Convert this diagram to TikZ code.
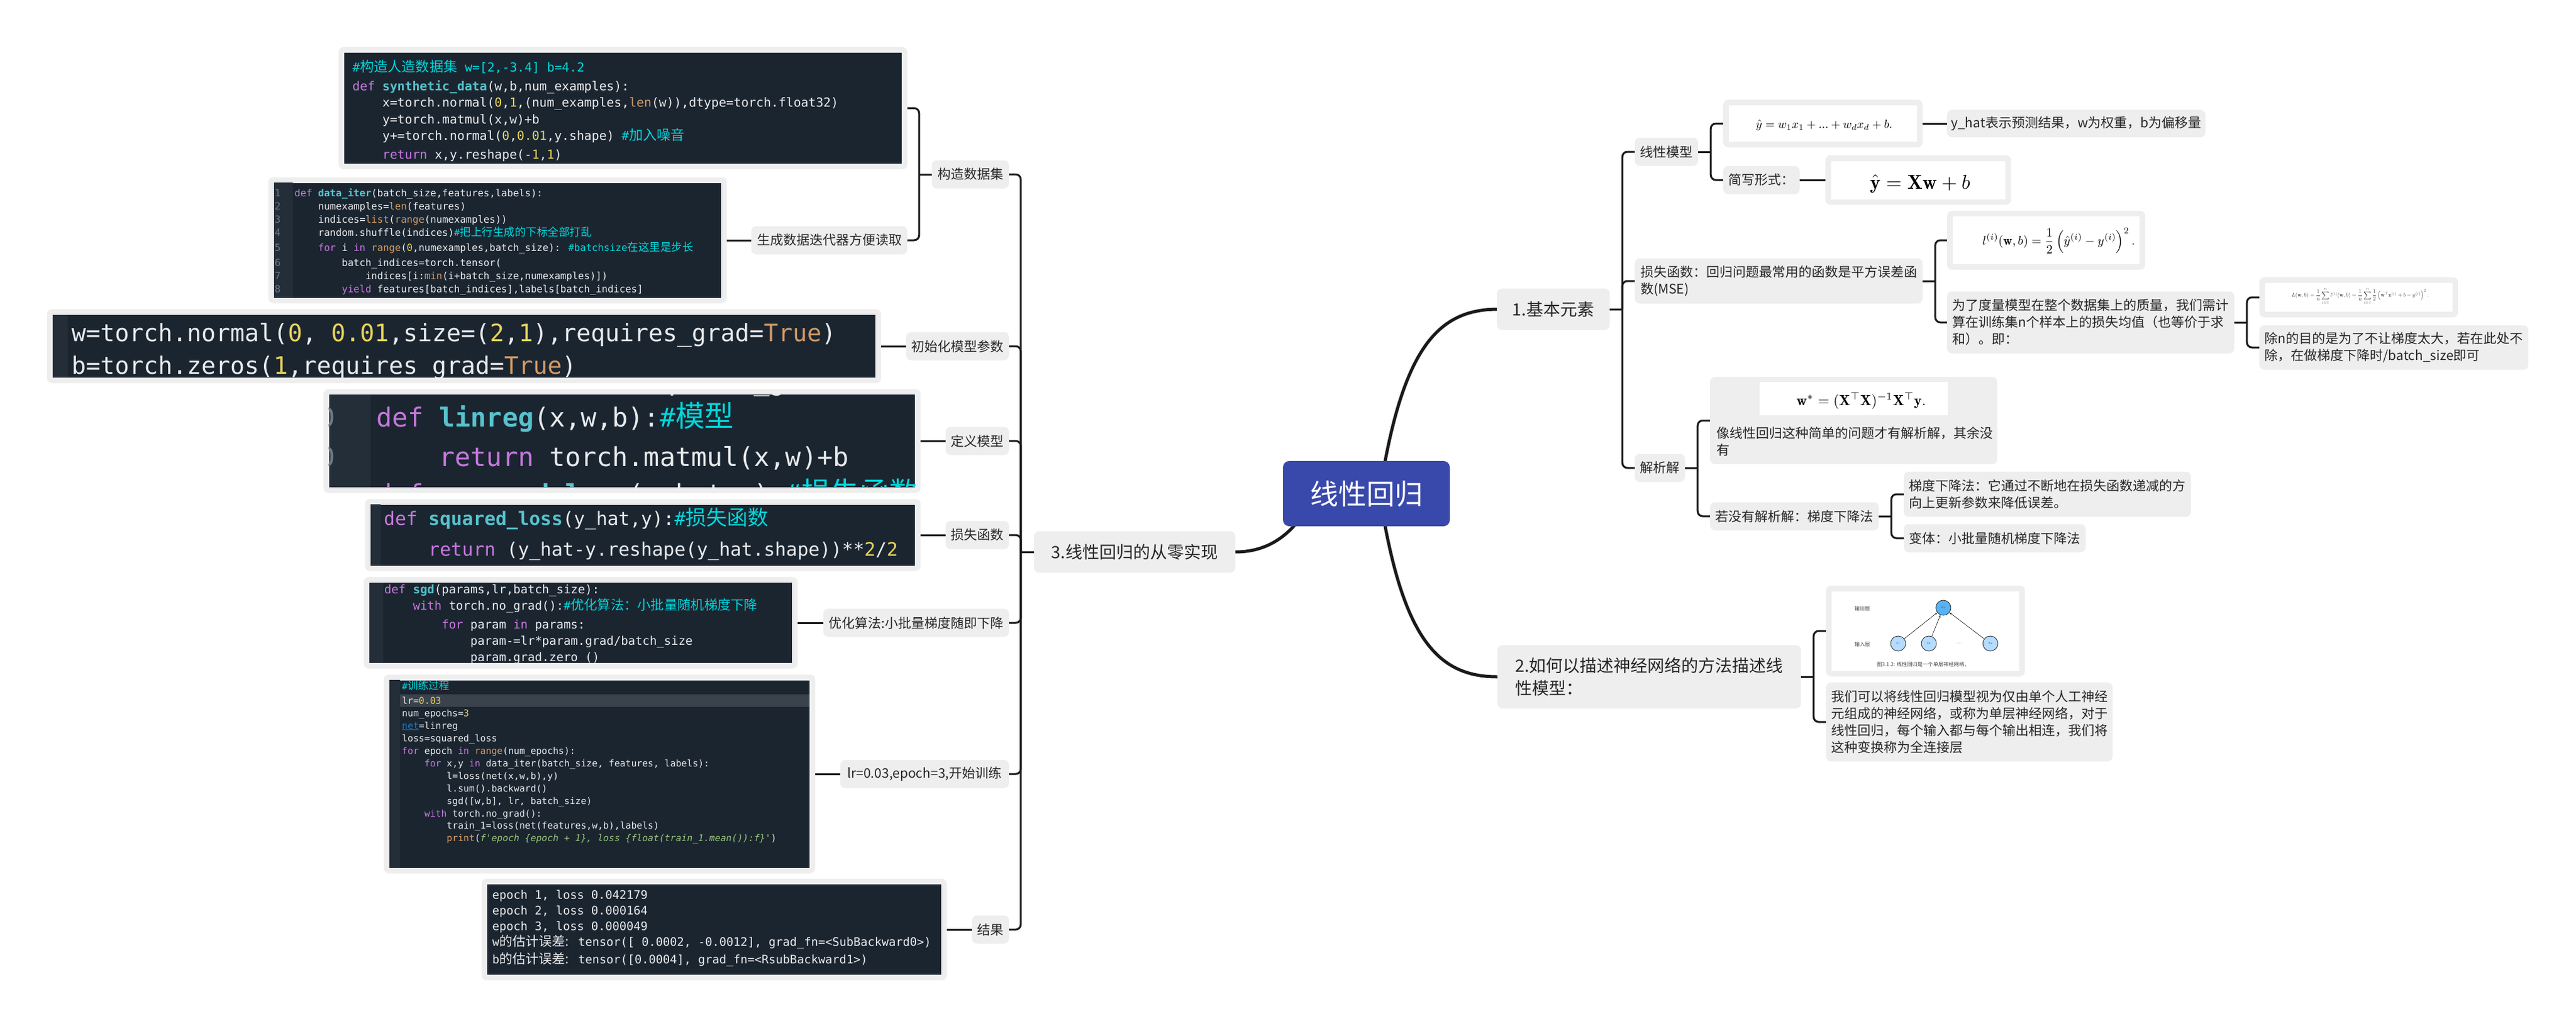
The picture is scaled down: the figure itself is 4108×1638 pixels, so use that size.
\documentclass[tikz,border=0pt]{standalone}
\usepackage{fontspec}
\usetikzlibrary{backgrounds,arrows.meta}
\newfontfamily\cjk{Noto Sans CJK SC}
\newfontfamily\cjkcode[Scale=1.12]{Noto Sans CJK SC}
\newfontfamily\codefont{DejaVu Sans Mono}
\definecolor{framegray}{HTML}{EEEEEE}
\definecolor{codebg}{HTML}{1B2530}
\definecolor{codegut}{HTML}{232E39}
\definecolor{codehl}{HTML}{3A424B}
\definecolor{codetxt}{HTML}{E8EAEC}
\definecolor{codekw}{HTML}{C678DD}
\definecolor{codefn}{HTML}{56C2CC}
\definecolor{codenum}{HTML}{E8D45C}
\definecolor{codebi}{HTML}{D19A66}
\definecolor{codecm}{HTML}{00D8DC}
\definecolor{codestr}{HTML}{98C379}
\definecolor{codeln}{HTML}{6C7A86}
\definecolor{rootblue}{HTML}{3949AB}
\definecolor{inkline}{HTML}{1A1A1A}
\definecolor{neuronout}{HTML}{56B4F5}
\definecolor{neuronin}{HTML}{B5DBFF}
\newcommand\kw[1]{\textcolor{codekw}{#1}}
\newcommand\fnm[1]{\textcolor{codefn}{\bfseries #1}}
\newcommand\nm[1]{\textcolor{codenum}{#1}}
\newcommand\bif[1]{\textcolor{codebi}{#1}}
\newcommand\cmt[1]{\textcolor{codecm}{#1}}
\newcommand\strg[1]{\textcolor{codestr}{#1}}
\newcommand\cc[1]{{\cjkcode #1}}
\newcommand\lnum[1]{\textcolor{codeln}{#1}}
\newcommand\codesize[1]{\codefont\fontsize{#1}{#1}\selectfont}
\tikzset{
  topic/.style={fill=framegray, rounded corners=8pt, inner sep=0pt, text=black!85, align=left,
    font=\cjk\fontsize{21}{27}\selectfont},
  bigtopic/.style={topic, font=\cjk\fontsize{27}{36}\selectfont},
  rootnode/.style={fill=rootblue, rounded corners=10pt, inner sep=0pt, text=white,
    font=\cjk\fontsize{45}{50}\selectfont},
  frameout/.style={fill=framegray, rounded corners=8pt, inner sep=0pt},
  framecode/.style={fill=codebg, inner sep=0pt},
  framewhite/.style={fill=white, inner sep=0pt},
  codeline/.style={anchor=base west, inner sep=0pt, text=codetxt},
  formula/.style={inner sep=0pt},
  branchline/.style={draw=inkline, line width=3pt},
  rootline/.style={draw=inkline, line width=5pt},
  neuron/.style={circle, draw=black!85, line width=.8pt, minimum size=24pt, inner sep=0pt},
  netlabel/.style={inner sep=0pt, text=black!75, font=\cjk\fontsize{8.3}{10}\selectfont},
  netarrow/.style={-{Stealth[length=4pt,width=3pt]}, draw=black!85, line width=.7pt}
}
% name, cx, cy, w, h, text
\newcommand\topicnode[6]{\node[topic, minimum width=#4, minimum height=#5] (#1) at (#2,#3) {#6};}
% name, cx, cy, w, h
\newcommand\codeframe[5]{
  \node[frameout, minimum width=#4, minimum height=#5] (#1) at (#2,#3) {};
  \node[framecode, minimum width=#4-18, minimum height=#5-18] (#1in) at (#2,#3) {};
}
\newcommand\whiteframe[5]{
  \node[frameout, minimum width=#4, minimum height=#5] (#1) at (#2,#3) {};
  \node[framewhite, minimum width=#4-18, minimum height=#5-18] (#1in) at (#2,#3) {};
}
\newcommand\codeclip[1]{\clip (#1in.south west) rectangle (#1in.north east);}
\newcommand\codegutter[2]{\fill[codegut] (#1in.south west) rectangle ([xshift=#2pt]#1in.north west);}
% parent, gap, children
\newcommand\branchr[3]{
  \draw[branchline] (#1.east) -- ++(#2,0) coordinate (#1v);
  \foreach \kid in {#3} {\draw[branchline, rounded corners=8pt] (#1v) |- (\kid.west);}
}
\newcommand\branchl[3]{
  \draw[branchline] (#1.west) -- ++(-#2,0) coordinate (#1v);
  \foreach \kid in {#3} {\draw[branchline, rounded corners=8pt] (#1v) |- (\kid.east);}
}
\begin{document}
\begin{tikzpicture}[x=1pt,y=-1pt]
  \useasboundingbox (0,0) rectangle (4108,1638);
  % centre
  \node[rootnode, minimum width=266, minimum height=104] (root) at (2179,787) {线性回归};
  \coordinate (rootr) at (2200,787);
  \coordinate (rootl) at (2085,810);
  % 1
  \node[bigtopic, minimum width=180, minimum height=66] (basic) at (2477,493) {1.基本元素};
  \topicnode{lin}{2657.5}{242}{101}{45}{线性模型}
  \whiteframe{imgyhat}{2907}{197}{318}{76}
  \node[formula] (fyhat) at (2909,200) {\scalebox{1.9}{$\hat{y}=w_1x_1+...+w_dx_d+b.$}};
  \topicnode{yhat}{3311}{197}{412}{44}{y\_hat表示预测结果，w为权重，b为偏移量}
  \topicnode{short}{2809}{287}{122}{45}{简写形式：}
  \whiteframe{imgshort}{3059}{287}{296}{79}
  \node[formula] (fshort) at (3062,293) {\scalebox{3.2}{$\hat{\mathbf{y}}=\mathbf{X}\mathbf{w}+b$}};
  \topicnode{loss}{2836.5}{448}{459}{72}{损失函数：回归问题最常用的函数是平方误差函\\数(MSE)}
  \whiteframe{imgloss}{3263}{383}{316}{94}
  \node[formula] (floss) at (3283,384) {\scalebox{2}{$\displaystyle l^{(i)}(\mathbf{w},b)=\frac{1}{2}\left(\hat{y}^{(i)}-y^{(i)}\right)^2.$}};
  \topicnode{avg}{3334}{514}{458}{99}{为了度量模型在整个数据集上的质量，我们需计\\算在训练集n个样本上的损失均值（也等价于求\\和）。即：}
  \whiteframe{imgavg}{3761.5}{474}{317}{64}
  \node[formula, text=black!75] (favg) at (3764,472) {\scalebox{.88}{$\displaystyle L(\mathbf{w},b)=\frac{1}{n}\sum_{i=1}^{n}l^{(i)}(\mathbf{w},b)=\frac{1}{n}\sum_{i=1}^{n}\frac{1}{2}\left(\mathbf{w}^{\top}\mathbf{x}^{(i)}+b-y^{(i)}\right)^2.$}};
  \topicnode{divn}{3817.5}{554}{429}{71}{除n的目的是为了不让梯度太大，若在此处不\\除，在做梯度下降时/batch\_size即可}
  \topicnode{anal}{2647}{746}{80}{45}{解析解}
  \node[frameout, minimum width=458, minimum height=139] (analf) at (2956,670.5) {};
  \node[framewhite, minimum width=300, minimum height=53] (analfin) at (2956,635.5) {};
  \node[formula] (fanal) at (2968,639) {\scalebox{2.35}{$\mathbf{w}^{*}=(\mathbf{X}^{\top}\mathbf{X})^{-1}\mathbf{X}^{\top}\mathbf{y}.$}};
  \node[topic, fill=none, anchor=west] (analtext) at (2737,704) {像线性回归这种简单的问题才有解析解，其余没\\有};
  \topicnode{noan}{2861.5}{823}{269}{45}{若没有解析解：梯度下降法}
  \topicnode{gd}{3265}{788}{458}{72}{梯度下降法：它通过不断地在损失函数递减的方\\向上更新参数来降低误差。}
  \topicnode{var}{3181}{858}{290}{45}{变体：小批量随机梯度下降法}
  % 2
  \node[bigtopic, minimum width=484, minimum height=101] (net) at (2630,1079) {2.如何以描述神经网络的方法描述线\\性模型：};
  \whiteframe{imgnet}{3070.5}{1006}{317}{145}
  \node[neuron, fill=neuronout] (o1) at (3099,969) {\scalebox{.55}{$o_1$}};
  \node[neuron, fill=neuronin] (x1) at (3027,1026) {\scalebox{.55}{$x_1$}};
  \node[neuron, fill=neuronin] (x2) at (3076,1026) {\scalebox{.55}{$x_2$}};
  \node[neuron, fill=neuronin] (xd) at (3174,1026) {\scalebox{.55}{$x_d$}};
  \node[netlabel] (dots) at (3125,1026) {$\cdots$};
  \node[netlabel] (outlayer) at (2970,970) {输出层};
  \node[netlabel] (inlayer) at (2970,1027) {输入层};
  \node[netlabel] (netcap) at (3067,1059) {图3.1.2: 线性回归是一个单层神经网络。};
  \draw[netarrow] (x1) -- (o1);
  \draw[netarrow] (x2) -- (o1);
  \draw[netarrow] (xd) -- (o1);
  \topicnode{fullconn}{3140.5}{1151}{457}{126}{我们可以将线性回归模型视为仅由单个人工神经\\元组成的神经网络，或称为单层神经网络，对于\\线性回归，每个输入都与每个输出相连，我们将\\这种变换称为全连接层}
  % 3
  \node[bigtopic, minimum width=321, minimum height=66] (impl) at (1809.5,880) {3.线性回归的从零实现};
  \topicnode{mkdata}{1547.5}{278}{123}{45}{构造数据集}
  \topicnode{iterdata}{1322.5}{383}{249}{45}{生成数据迭代器方便读取}
  \topicnode{initp}{1527}{552}{164}{45}{初始化模型参数}
  \topicnode{defm}{1558.5}{703}{101}{45}{定义模型}
  \topicnode{lossf}{1558.5}{853}{101}{45}{损失函数}
  \topicnode{optim}{1461}{993}{296}{45}{优化算法:小批量梯度随即下降}
  \topicnode{train}{1474.5}{1234}{269}{45}{lr=0.03,epoch=3,开始训练}
  \topicnode{result}{1579.5}{1482}{59}{45}{结果}
  % code pictures
  \codeframe{cdata}{993.5}{172.5}{907}{195}
  \begin{scope}
    \codeclip{cdata}
    \foreach [count=\i] \yy/\linetext in {
      114/{\cmt{\#\cc{构造人造数据集} w=[2,-3.4] b=4.2}},
      144/{\kw{def} \fnm{synthetic\_data}(w,b,num\_examples):},
      170/{~~~~x=torch.normal(\nm{0},\nm{1},(num\_examples,\bif{len}(w)),dtype=torch.float32)},
      197/{~~~~y=torch.matmul(x,w)+b},
      223/{~~~~y+=torch.normal(\nm{0},\nm{0.01},y.shape) \cmt{\#\cc{加入噪音}}},
      253/{~~~~\kw{return} x,y.reshape(-\nm{1},\nm{1})}}
      \node[codeline, font=\codesize{19.8}] (cdata\i) at (562,\yy) {\linetext};
  \end{scope}
  \codeframe{citer}{793.5}{383}{731}{201}
  \begin{scope}
    \codeclip{citer}
    \codegutter{citer}{30}
    \foreach [count=\i] \yy/\linetext in {
      313/{\kw{def} \fnm{data\_iter}(batch\_size,features,labels):},
      334/{~~~~numexamples=\bif{len}(features)},
      355/{~~~~indices=\bif{list}(\bif{range}(numexamples))},
      376/{~~~~random.shuffle(indices)\cmt{\#\cc{把上行生成的下标全部打乱}}},
      400/{~~~~\kw{for} i \kw{in} \bif{range}(\nm{0},numexamples,batch\_size): \cmt{\#batchsize\cc{在这里是步长}}},
      424/{~~~~~~~~batch\_indices=torch.tensor(},
      445/{~~~~~~~~~~~~indices[i:\bif{min}(i+batch\_size,numexamples)])},
      466/{~~~~~~~~\kw{yield} features[batch\_indices],labels[batch\_indices]}}
      {
      \node[codeline, font=\codesize{15.65}] (citer\i) at (469.5,\yy) {\linetext};
      \node[codeline, font=\codesize{15.65}] (citern\i) at (438,\yy) {\lnum{\i}};
      }
  \end{scope}
  \codeframe{cinit}{740}{552}{1330}{118}
  \begin{scope}
    \codeclip{cinit}
    \codegutter{cinit}{24}
    \foreach [count=\i] \yy/\linetext in {
      544/{w=torch.normal(\nm{0}, \nm{0.01},size=(\nm{2},\nm{1}),requires\_grad=\bif{True})},
      596/{b=torch.zeros(\nm{1},requires\_grad=\bif{True})}}
      \node[codeline, font=\codesize{38.2}] (cinit\i) at (114,\yy) {\linetext};
  \end{scope}
  \codeframe{cmodel}{992}{703}{952}{166}
  \begin{scope}
    \codeclip{cmodel}
    \codegutter{cmodel}{66}
    \foreach [count=\i] \yy/\linetext in {
      622/{b=torch.zeros(\nm{1},requires\_grad=\bif{True})},
      680/{\kw{def} \fnm{linreg}(x,w,b):\cmt{\#\cc{模型}}},
      743/{~~~~\kw{return} torch.matmul(x,w)+b},
      802/{\kw{def} \fnm{squared\_loss}(y\_hat,y):\cmt{\#\cc{损失函数}}}}
      \node[codeline, font=\codesize{41.7}] (cmodel\i) at (600,\yy) {\linetext};
    \node[codeline, font=\codesize{41.7}] (cmodeln1) at (509,680) {\lnum{0}};
    \node[codeline, font=\codesize{41.7}] (cmodeln2) at (509,743) {\lnum{0}};
  \end{scope}
  \codeframe{closs}{1025}{853}{886}{115}
  \begin{scope}
    \codeclip{closs}
    \codegutter{closs}{16}
    \foreach [count=\i] \yy/\linetext in {
      837/{\kw{def} \fnm{squared\_loss}(y\_hat,y):\cmt{\#\cc{损失函数}}},
      886/{~~~~\kw{return} (y\_hat-y.reshape(y\_hat.shape))**\nm{2}/\nm{2}}}
      \node[codeline, font=\codesize{29.6}] (closs\i) at (612,\yy) {\linetext};
  \end{scope}
  \codeframe{csgd}{926}{993}{692}{146}
  \begin{scope}
    \codeclip{csgd}
    \codegutter{csgd}{22}
    \foreach [count=\i] \yy/\linetext in {
      946/{\kw{def} \fnm{sgd}(params,lr,batch\_size):},
      972/{~~~~\kw{with} torch.no\_grad():\cmt{\#\cc{优化算法：小批量随机梯度下降}}},
      1002/{~~~~~~~~\kw{for} param \kw{in} params:},
      1028/{~~~~~~~~~~~~param-=lr*param.grad/batch\_size},
      1054/{~~~~~~~~~~~~param.grad.zero\_()}}
      \node[codeline, font=\codesize{19}] (csgd\i) at (612.6,\yy) {\linetext};
  \end{scope}
  \codeframe{ctrain}{956}{1234}{688}{317}
  \begin{scope}
    \codeclip{ctrain}
    \codegutter{ctrain}{17}
    \fill[codehl] (638,1107) rectangle (1291,1127);
    \foreach [count=\i] \yy/\linetext in {
      1099/{\cmt{\#\cc{训练过程}}},
      1122/{lr=\nm{0.03}},
      1142/{num\_epochs=\nm{3}},
      1162/{\textcolor{cyan!60!blue}{\underline{net}}=linreg},
      1182/{loss=squared\_loss},
      1202/{\kw{for} epoch \kw{in} \bif{range}(num\_epochs):},
      1222/{~~~~\kw{for} x,y \kw{in} data\_iter(batch\_size, features, labels):},
      1242/{~~~~~~~~l=loss(net(x,w,b),y)},
      1262/{~~~~~~~~l.sum().backward()},
      1282/{~~~~~~~~sgd([w,b], lr, batch\_size)},
      1302/{~~~~\kw{with} torch.no\_grad():},
      1321/{~~~~~~~~train\_1=loss(net(features,w,b),labels)},
      1341/{~~~~~~~~\bif{print}(\strg{\itshape f'epoch \{epoch + 1\}, loss \{float(train\_1.mean()):f\}'})}}
      \node[codeline, font=\codesize{14.8}] (ctrain\i) at (641,\yy) {\linetext};
  \end{scope}
  \codeframe{cres}{1139}{1482}{742}{162}
  \begin{scope}
    \codeclip{cres}
    \foreach [count=\i] \yy/\linetext in {
      1433/{epoch 1, loss 0.042179},
      1458/{epoch 2, loss 0.000164},
      1483/{epoch 3, loss 0.000049},
      1508/{w\cc{的估计误差:} tensor([ 0.0002, -0.0012], grad\_fn=<SubBackward0>)},
      1536/{b\cc{的估计误差:} tensor([0.0004], grad\_fn=<RsubBackward1>)}}
      \node[codeline, font=\codesize{18.7}] (cres\i) at (785,\yy) {\linetext};
  \end{scope}
  % connectors
  \begin{scope}[on background layer]
    \draw[rootline] (rootr) .. controls (2235,560) and (2290,494) .. (basic.west);
    \draw[rootline] (rootr) .. controls (2235,1014) and (2290,1079) .. (net.west);
    \draw[rootline] (rootl) .. controls (2060,850) and (2025,880) .. (impl.east);
  \end{scope}
  \branchr{basic}{20}{lin,loss,anal}
  \branchr{lin}{20}{imgyhat,short}
  \draw[branchline] (imgyhat.east) -- (yhat.west);
  \draw[branchline] (short.east) -- (imgshort.west);
  \branchr{loss}{20}{imgloss,avg}
  \branchr{avg}{20}{imgavg,divn}
  \branchr{anal}{20}{analf,noan}
  \branchr{noan}{20}{gd,var}
  \branchr{net}{20}{imgnet,fullconn}
  \branchl{impl}{21}{mkdata,initp,defm,lossf,optim,train,result}
  \branchl{mkdata}{20}{cdata,iterdata}
  \draw[branchline] (iterdata.west) -- (citer.east);
  \draw[branchline] (initp.west) -- (cinit.east);
  \draw[branchline] (defm.west) -- (cmodel.east);
  \draw[branchline] (lossf.west) -- (closs.east);
  \draw[branchline] (optim.west) -- (csgd.east);
  \draw[branchline] (train.west) -- (ctrain.east);
  \draw[branchline] (result.west) -- (cres.east);
\end{tikzpicture}
\end{document}
